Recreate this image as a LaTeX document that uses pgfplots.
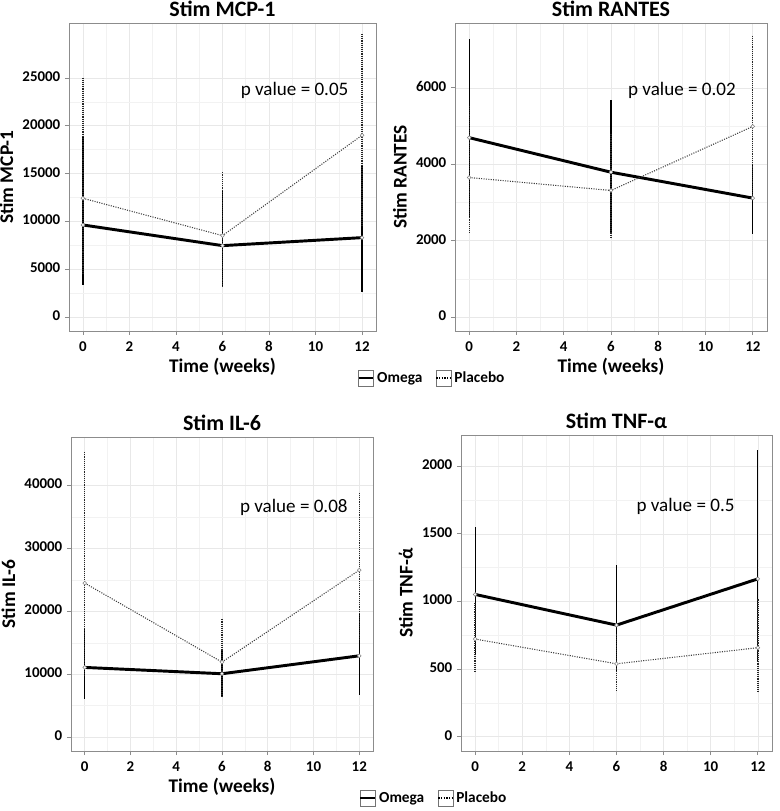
\documentclass[border=0pt]{standalone}
\usepackage{fontspec}
\setmainfont{Carlito}
\usepackage{pgfplots}
\pgfplotsset{compat=1.18}
\definecolor{gridc}{gray}{0.91}
\definecolor{gridm}{gray}{0.95}
\definecolor{borderc}{gray}{0.55}
\pgfplotsset{
  panel/.style={
    scale only axis,
    xmin=-0.6, xmax=12.6,
    xtick={0,2,...,12},
    minor x tick num=1, minor y tick num=1,
    grid=both,
    major grid style={gridc, line width=0.5pt},
    minor grid style={gridm, line width=0.4pt},
    axis line style={borderc, line width=0.7pt},
    tick align=outside,
    xtick pos=left, ytick pos=left,
    major tick length=3pt, minor tick length=0pt,
    tick style={borderc, line width=0.6pt},
    scaled y ticks=false,
    typeset ticklabels with strut,
    /pgf/number format/assume math mode=true,
    /pgf/number format/1000 sep={},
    ticklabel style={font=\bfseries\fontsize{11.2}{13}\selectfont},
    label style={font=\bfseries\fontsize{14.5}{16}\selectfont},
    xlabel style={yshift=6pt},
    every axis title/.style={at={(0.5,1)}, anchor=base, yshift=5pt,
      font=\bfseries\fontsize{16.5}{18}\selectfont},
    legend style={draw=none, fill=none, legend columns=2,
      font=\bfseries\fontsize{11.5}{13}\selectfont,
      /tikz/every even column/.append style={column sep=8pt}},
  },
  omega/.style={black, line width=2.2pt, mark=*, mark size=1.4pt,
    mark options={fill=white, draw=gray, solid, line width=0.4pt}, forget plot,
    error bars/y dir=both, error bars/y explicit, error bars/error mark=none,
    error bars/error bar style={black, solid, line width=0.9pt}},
  placebo/.style={black!75, densely dotted, line width=0.8pt, mark=*, mark size=1.4pt,
    mark options={fill=white, draw=gray, solid, line width=0.4pt}, forget plot,
    error bars/y dir=both, error bars/y explicit, error bars/error mark=none,
    error bars/error bar style={black!85, densely dotted, line width=1pt}},
}
\newcommand{\legendkeys}{%
  \addlegendimage{legend image code/.code={\draw[black!55,fill=white,line width=0.6pt] (0pt,-6pt) rectangle (11pt,6pt); \draw[black,line width=2pt] (0pt,0pt) -- (11pt,0pt);}}
  \addlegendentry{Omega}
  \addlegendimage{legend image code/.code={\draw[black!55,fill=white,line width=0.6pt] (0pt,-6pt) rectangle (11pt,6pt); \draw[black,line width=1pt,densely dotted] (0pt,0pt) -- (11pt,0pt);}}
  \addlegendentry{Placebo}
}
\begin{document}
\begin{tikzpicture}
\useasboundingbox (0,0) rectangle (585pt,608.25pt);
% ---------- Top left: MCP-1
\begin{axis}[panel, at={(51.75pt,360pt)}, anchor=south west,
  width=230.25pt, height=231pt,
  ymin=-1464, ymax=30744, ytick={0,5000,...,25000},
  title={Stim MCP-1}, xlabel={Time (weeks)}, ylabel={Stim MCP-1},
  legend style={at={(0.925,-0.153)}, anchor=west}]
\legendkeys
\addplot[omega] coordinates {
 (0,9624) += (0,9171) -= (0,6311)
 (6,7462) += (0,5684) -= (0,4184)
 (12,8299) += (0,7462) -= (0,5719)};
\addplot[placebo] coordinates {
 (0,12414) += (0,12553) -= (0,7811)
 (6,8508) += (0,6800) -= (0,5300)
 (12,19004) += (0,10566) -= (0,9450)};
\node[font=\fontsize{14.3}{16}\selectfont] at (axis cs:9.1,23670) {p value = 0.05};
\end{axis}
% ---------- Top right: RANTES
\begin{axis}[panel, at={(341.25pt,360pt)}, anchor=south west,
  width=234pt, height=231pt,
  ymin=-368, ymax=7700, ytick={0,2000,...,6000},
  title={Stim RANTES}, xlabel={Time (weeks)}, ylabel={Stim RANTES}]
\addplot[omega] coordinates {
 (0,4696) += (0,2582) -= (0,2070)
 (6,3791) += (0,1896) -= (0,1556)
 (12,3113) += (0,905) -= (0,948)};
\addplot[placebo] coordinates {
 (0,3652) += (0,1861) -= (0,1443)
 (6,3313) += (0,1505) -= (0,1252)
 (12,4991) += (0,2375) -= (0,1843)};
\node[font=\fontsize{14.3}{16}\selectfont] at (axis cs:9.0,5930) {p value = 0.02};
\end{axis}
% ---------- Bottom left: IL-6
\begin{axis}[panel, at={(53.25pt,45pt)}, anchor=south west,
  width=226.5pt, height=235.5pt,
  ymin=-2200, ymax=47700, ytick={0,10000,...,40000},
  title={Stim IL-6}, xlabel={Time (weeks)}, ylabel={Stim IL-6},
  legend style={at={(0.94,-0.15)}, anchor=west}]
\legendkeys
\addplot[omega] coordinates {
 (0,11082) += (0,6332) -= (0,5013)
 (6,10079) += (0,3799) -= (0,3588)
 (12,12929) += (0,6596) -= (0,6280)};
\addplot[placebo] coordinates {
 (0,24485) += (0,21055) -= (0,14828)
 (6,11926) += (0,6966) -= (0,5594)
 (12,26543) += (0,12243) -= (0,11187)};
\node[font=\fontsize{14.3}{16}\selectfont] at (axis cs:9.14,36570) {p value = 0.08};
\end{axis}
% ---------- Bottom right: TNF-alpha
\begin{axis}[panel, at={(345.75pt,45pt)}, anchor=south west,
  width=233.25pt, height=237pt,
  ymin=-106, ymax=2231, ytick={0,500,...,2000},
  title={Stim TNF-α}, ylabel={Stim TNF-ά}]
\addplot[omega] coordinates {
 (0,1052) += (0,500) -= (0,451)
 (6,825) += (0,446) -= (0,340)
 (12,1167) += (0,956) -= (0,608)};
\addplot[placebo] coordinates {
 (0,722) += (0,263) -= (0,237)
 (6,539) += (0,222) -= (0,204)
 (12,658) += (0,369) -= (0,321)};
\node[font=\fontsize{14.3}{16}\selectfont] at (axis cs:8.93,1704) {p value = 0.5};
\end{axis}
\end{tikzpicture}
\end{document}
